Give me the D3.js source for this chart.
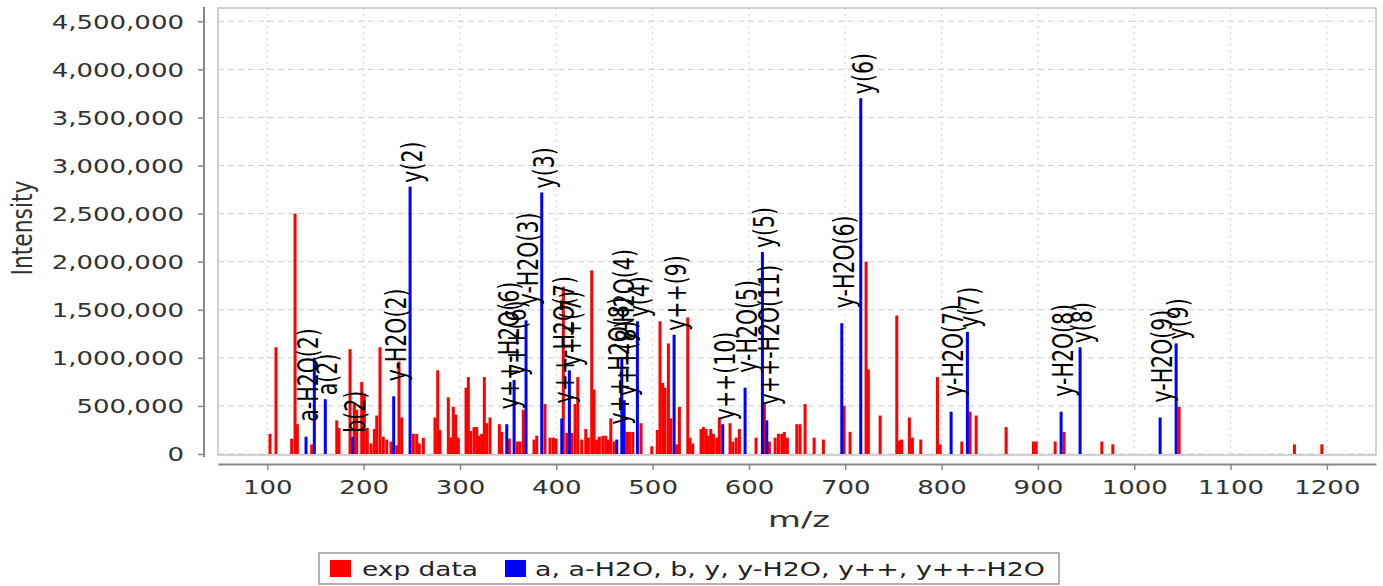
<!DOCTYPE html>
<html>
<head>
<meta charset="utf-8">
<script src="https://cdn.jsdelivr.net/npm/d3@7"></script>
<style>
  html, body { margin: 0; padding: 0; background: #fff; }
  svg { display: block; font-family: "DejaVu Sans", sans-serif; }
</style>
</head>
<body>
<svg id="chart" width="1383" height="586"></svg>
<script>
// experimental peaks (red)
var expMz = [102.8, 109.0, 125.3, 128.8, 131.2, 146.1, 172.1, 174.4, 185.9, 190.3,
  192.8, 198.0, 200.7, 203.8, 207.7, 211.1, 213.6, 217.0, 220.4, 224.0,
  228.4, 234.4, 236.7, 239.5, 251.6, 255.1, 257.8, 262.0, 274.1, 276.9,
  279.3, 287.9, 290.4, 293.1, 295.6, 298.3, 306.3, 308.7, 311.2, 314.6,
  317.4, 320.1, 322.6, 325.3, 327.8, 331.2, 340.9, 343.4, 351.3, 359.6,
  362.4, 365.8, 376.9, 379.7, 388.3, 393.5, 397.0, 399.8, 407.3, 410.9,
  416.1, 419.5, 422.3, 426.4, 430.6, 433.3, 436.8, 439.2, 442.0, 444.7,
  448.3, 451.4, 454.1, 456.6, 460.0, 473.2, 475.9, 479.4, 488.0, 499.1,
  504.9, 507.7, 510.5, 512.9, 516.4, 518.9, 525.1, 527.8, 536.5, 538.9,
  541.7, 550.3, 552.7, 555.5, 557.9, 560.4, 563.1, 566.6, 569.3, 580.4,
  583.2, 586.7, 590.1, 607.4, 616.0, 621.2, 627.2, 630.6, 634.1, 636.8,
  639.9, 649.7, 653.1, 658.3, 667.7, 677.3, 698.8, 705.0, 721.6, 724.0,
  736.2, 753.5, 756.2, 758.7, 766.6, 769.7, 778.4, 795.7, 798.5, 821.0,
  829.6, 835.9, 867.0, 895.4, 898.2, 917.9, 927.2, 966.4, 977.8, 1046.6,
  1166.3, 1194.8];
var expInt = [210000, 1110000, 160000, 2500000, 310000, 100000, 350000, 270000, 1090000, 520000,
  460000, 750000, 630000, 270000, 110000, 260000, 400000, 1110000, 180000, 150000,
  130000, 90000, 960000, 380000, 210000, 210000, 110000, 170000, 380000, 870000,
  250000, 590000, 170000, 490000, 410000, 170000, 690000, 800000, 240000, 280000,
  280000, 190000, 210000, 800000, 320000, 380000, 310000, 230000, 160000, 130000,
  130000, 460000, 150000, 190000, 520000, 170000, 170000, 160000, 1740000, 220000,
  220000, 520000, 800000, 150000, 260000, 170000, 1910000, 670000, 150000, 180000,
  190000, 190000, 150000, 370000, 130000, 230000, 230000, 230000, 320000, 80000,
  250000, 1380000, 740000, 690000, 1150000, 370000, 100000, 490000, 1420000, 170000,
  110000, 260000, 280000, 260000, 190000, 260000, 210000, 170000, 380000, 320000,
  130000, 170000, 260000, 170000, 520000, 130000, 170000, 210000, 210000, 230000,
  170000, 310000, 310000, 520000, 170000, 150000, 500000, 230000, 2000000, 880000,
  400000, 1440000, 140000, 150000, 380000, 170000, 150000, 800000, 100000, 130000,
  440000, 400000, 280000, 130000, 130000, 130000, 230000, 130000, 100000, 490000,
  100000, 100000];

// annotated fragment ions (blue)
var ionMz = [140.2, 148.8, 160.2, 188.7, 231.2, 248.2, 348.6, 356.2, 368.6, 384.9,
  405.7, 413.6, 462.8, 468.0, 470.4, 484.2, 522.3, 572.8, 596.0, 614.0,
  618.5, 696.4, 716.1, 809.9, 826.8, 924.1, 943.8, 1026.9, 1043.5];
var ionInt = [180000, 1000000, 570000, 180000, 600000, 2780000, 310000, 770000, 1390000, 2720000,
  370000, 870000, 150000, 1010000, 560000, 1380000, 1240000, 310000, 690000, 2100000,
  350000, 1360000, 3700000, 440000, 1270000, 440000, 1110000, 380000, 1150000];
var ionLabel = ["a-H2O(2)", "", "a(2)", "b(2)", "y-H2O(2)", "y(2)", "y++-H2O(6)", "y++(6)", "y-H2O(3)", "y(3)",
  "y++-H2O(7)", "y++(7)", "y++-H2O(8)", "y-H2O(4)", "y++(8)", "y(4)", "y++(9)", "y++(10)", "y-H2O(5)", "y(5)",
  "y++-H2O(11)", "y-H2O(6)", "y(6)", "y-H2O(7)", "y(7)", "y-H2O(8)", "y(8)", "y-H2O(9)", "y(9)"];

var xTickValues = [100, 200, 300, 400, 500, 600, 700, 800, 900, 1000, 1100, 1200];
var yTickValues = [0, 500000, 1000000, 1500000, 2000000, 2500000, 3000000, 3500000, 4000000, 4500000];

var legendNames = ["exp data", "a, a-H2O, b, y, y-H2O, y++, y++-H2O"];
var legendColors = ["#ff0000", "#0000ff"];

function drawChart() {
  // the reference picture is stretched sideways, so text gets the same stretch
  var SX = 1.37;

  var svg = d3.select("#chart");
  var pLeft = 218, pRight = 1376, pTop = 8, pBottom = 454;

  var x = d3.scaleLinear().domain([48.8, 1251]).range([pLeft, pRight]);
  var y = d3.scaleLinear().domain([0, 4638000]).range([pBottom, pTop]);

  // grid
  svg.append("g").selectAll("line")
    .data(yTickValues)
    .join("line")
    .attr("x1", pLeft).attr("x2", pRight)
    .attr("y1", function (d) { return y(d); })
    .attr("y2", function (d) { return y(d); })
    .attr("stroke", "#cfcfcf").attr("stroke-width", 1)
    .attr("stroke-dasharray", "6,4");

  svg.append("g").selectAll("line")
    .data(xTickValues)
    .join("line")
    .attr("x1", function (d) { return x(d); })
    .attr("x2", function (d) { return x(d); })
    .attr("y1", pTop).attr("y2", pBottom)
    .attr("stroke", "#cfcfcf").attr("stroke-width", 1)
    .attr("stroke-dasharray", "2,4");

  // bars
  svg.append("g").selectAll("rect")
    .data(expMz)
    .join("rect")
    .attr("x", function (d) { return x(d) - 1.5; })
    .attr("width", 3)
    .attr("y", function (d, i) { return y(expInt[i]); })
    .attr("height", function (d, i) { return y(0) - y(expInt[i]); })
    .attr("fill", "#ff0000");

  svg.append("g").selectAll("rect")
    .data(ionMz)
    .join("rect")
    .attr("x", function (d) { return x(d) - 1.5; })
    .attr("width", 3)
    .attr("y", function (d, i) { return y(ionInt[i]); })
    .attr("height", function (d, i) { return y(0) - y(ionInt[i]); })
    .attr("fill", "#0000ff");

  // rotated ion labels
  svg.append("g").selectAll("text")
    .data(ionMz)
    .join("text")
    .attr("font-size", 20.5)
    .attr("fill", "#000")
    .attr("text-anchor", "start")
    .attr("transform", function (d, i) {
      var lift = /H2O/.test(ionLabel[i]) ? 15 : 4;
      return "translate(" + (x(d) + 12) + "," + (y(ionInt[i]) - lift) + ") scale(" + SX + ",1) rotate(-90)";
    })
    .text(function (d, i) { return ionLabel[i]; });

  // plot border
  svg.append("rect")
    .attr("x", pLeft).attr("y", pTop)
    .attr("width", pRight - pLeft).attr("height", pBottom - pTop + 1)
    .attr("fill", "none")
    .attr("stroke", "#c4c4c4").attr("stroke-width", 1.5);

  // axes
  var yAxis = d3.axisLeft(y)
    .tickValues(yTickValues)
    .tickFormat(d3.format(","))
    .tickSizeInner(6).tickSizeOuter(0).tickPadding(14);

  var gy = svg.append("g")
    .attr("transform", "translate(204,0)")
    .call(yAxis);
  gy.select(".domain").attr("stroke", "#888").attr("stroke-width", 2)
    .attr("d", "M0," + (pTop - 1) + "V" + (pBottom + 3));
  gy.selectAll(".tick line").attr("stroke", "#888").attr("stroke-width", 1.5);
  gy.selectAll(".tick text")
    .attr("x", null).attr("dy", "0.36em")
    .attr("transform", "translate(-20,0) scale(" + SX + ",1)")
    .attr("font-size", 19).attr("fill", "#333")
    .attr("font-family", "DejaVu Sans");

  var xAxis = d3.axisBottom(x)
    .tickValues(xTickValues)
    .tickFormat(d3.format("d"))
    .tickSizeInner(6).tickSizeOuter(0).tickPadding(11);

  var gx = svg.append("g")
    .attr("transform", "translate(0,464)")
    .call(xAxis);
  gx.select(".domain").attr("stroke", "#888").attr("stroke-width", 2);
  gx.selectAll(".tick line").attr("stroke", "#888").attr("stroke-width", 1.5);
  gx.selectAll(".tick text")
    .attr("transform", "scale(" + SX + ",1)")
    .attr("font-size", 19).attr("fill", "#333")
    .attr("font-family", "DejaVu Sans");

  // axis titles
  svg.append("text")
    .attr("transform", "translate(32,228) scale(" + SX + ",1) rotate(-90)")
    .attr("text-anchor", "middle")
    .attr("font-size", 21).attr("fill", "#333")
    .attr("textLength", 95).attr("lengthAdjust", "spacingAndGlyphs")
    .text("Intensity");

  svg.append("text")
    .attr("x", 799).attr("y", 527)
    .attr("text-anchor", "middle")
    .attr("font-size", 21).attr("fill", "#333")
    .attr("textLength", 62).attr("lengthAdjust", "spacingAndGlyphs")
    .text("m/z");

  // legend
  var legend = svg.append("g");
  legend.append("rect")
    .attr("x", 319).attr("y", 553)
    .attr("width", 740).attr("height", 31)
    .attr("fill", "#fff").attr("stroke", "#999").attr("stroke-width", 1.5);

  var legendX = [330, 505];
  var legendTextX = [362, 535];
  var legendTextW = [116, 510];
  legend.selectAll("rect.sw")
    .data(legendNames)
    .join("rect")
    .attr("class", "sw")
    .attr("x", function (d, i) { return legendX[i]; })
    .attr("y", 560).attr("width", 21).attr("height", 17)
    .attr("fill", function (d, i) { return legendColors[i]; });
  legend.selectAll("text")
    .data(legendNames)
    .join("text")
    .attr("x", function (d, i) { return legendTextX[i]; })
    .attr("y", 576)
    .attr("font-size", 19).attr("fill", "#222")
    .attr("textLength", function (d, i) { return legendTextW[i]; })
    .attr("lengthAdjust", "spacingAndGlyphs")
    .text(function (d) { return d; });
}

drawChart();
</script>
</body>
</html>
